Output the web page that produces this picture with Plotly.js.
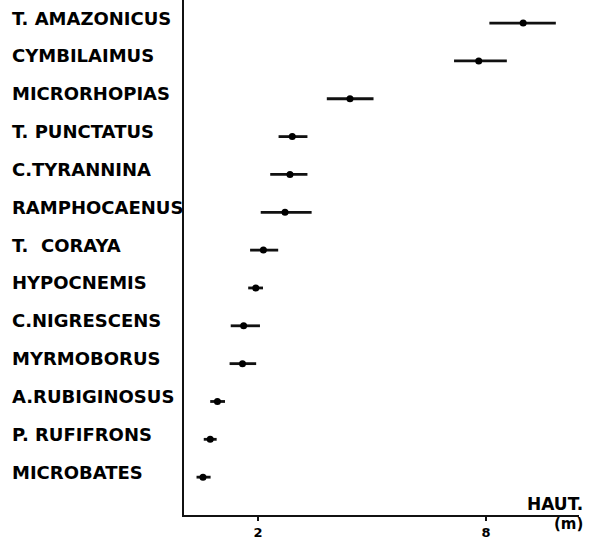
<!DOCTYPE html>
<html>
<head>
<meta charset="utf-8">
<script src="https://cdn.plot.ly/plotly-3.0.1.min.js"></script>
<style>html,body{margin:0;padding:0;background:#fff;}#chart{width:590px;height:541px;}</style>
</head>
<body>
<div id="chart"></div>
<script>
// Species, bottom to top
const species = ["MICROBATES","P. RUFIFRONS","A.RUBIGINOSUS","MYRMOBORUS","C.NIGRESCENS","HYPOCNEMIS","T.  CORAYA","RAMPHOCAENUS","C.TYRANNINA","T. PUNCTATUS","MICRORHOPIAS","CYMBILAIMUS","T. AMAZONICUS"];
// Mean foraging height (m) and range ends
const meanHeight = [0.55, 0.74, 0.93, 1.59, 1.62, 1.94, 2.14, 2.71, 2.84, 2.90, 4.42, 7.81, 8.98];
const lowHeight  = [0.38, 0.57, 0.74, 1.25, 1.28, 1.74, 1.79, 2.07, 2.32, 2.54, 3.81, 7.16, 8.09];
const highHeight = [0.75, 0.91, 1.13, 1.95, 2.05, 2.13, 2.53, 3.41, 3.30, 3.30, 5.04, 8.55, 9.84];
const tickVals = [2, 8];
const tickText = ["2", "8"];

const yIdx = species.map((s, i) => i);
const trace = {
  type: "scatter",
  mode: "markers",
  x: meanHeight,
  y: yIdx,
  marker: {color: "#000", size: 7},
  error_x: {
    type: "data",
    symmetric: false,
    array: highHeight.map((h, i) => h - meanHeight[i]),
    arrayminus: meanHeight.map((m, i) => m - lowHeight[i]),
    color: "#111",
    thickness: 2.8,
    width: 0
  },
  hoverinfo: "skip",
  showlegend: false
};

const labelFont = {family: "DejaVu Sans, Arial, sans-serif", size: 18, weight: "bold", color: "#000"};
const annotations = species.map((s, i) => ({
  text: s, xref: "paper", yref: "y", x: -0.44, y: i, xanchor: "left", yanchor: "middle",
  showarrow: false, yshift: 5, font: labelFont
}));
annotations.push({text: "HAUT.", xref: "paper", yref: "paper", x: 1.012, y: 0.0, xanchor: "right", yanchor: "bottom",
  showarrow: false, borderpad: 0, font: {family: "DejaVu Sans, Arial, sans-serif", size: 17, weight: "bold", color: "#000"}});
annotations.push({text: "(m)", xref: "paper", yref: "paper", x: 1.012, y: 0.002, xanchor: "right", yanchor: "top",
  showarrow: false, borderpad: 0, font: {family: "DejaVu Sans, Arial, sans-serif", size: 15, weight: "bold", color: "#000"}});

const layout = {
  width: 590, height: 541,
  margin: {l: 184, r: 11, t: 0, b: 26, pad: 0},
  paper_bgcolor: "#fff", plot_bgcolor: "#fff",
  showlegend: false,
  xaxis: {
    range: [0.05, 10.45], showgrid: false, zeroline: false,
    showline: true, linecolor: "#111", linewidth: 2.4,
    ticks: "outside", ticklen: 4, tickwidth: 1.5, tickcolor: "#111",
    tickvals: tickVals, ticktext: tickText,
    tickfont: {family: "DejaVu Sans, Arial, sans-serif", size: 13, weight: "bold", color: "#000"},
    fixedrange: true
  },
  yaxis: {
    range: [-1.0, 12.61], showgrid: false, zeroline: false,
    showline: true, linecolor: "#111", linewidth: 2.4,
    showticklabels: false, ticks: "", fixedrange: true
  },
  annotations: annotations
};

Plotly.newPlot("chart", [trace], layout, {displayModeBar: false, staticPlot: true});
</script>
</body>
</html>
